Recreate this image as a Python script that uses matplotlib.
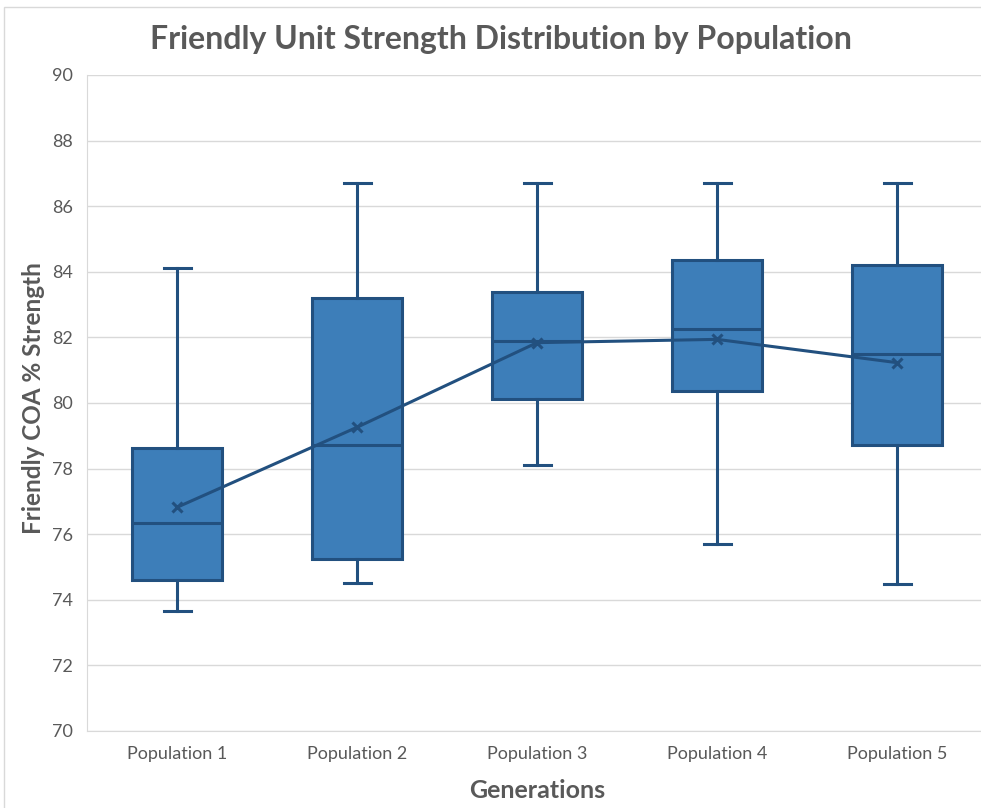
import numpy as np
import matplotlib.pyplot as plt
from matplotlib.patches import Rectangle

# values
populations = ["Population 1", "Population 2", "Population 3", "Population 4", "Population 5"]
whisker_low = [73.66, 74.50, 78.10, 75.69, 74.48]
q1 = [74.60, 75.24, 80.11, 80.36, 78.72]
median = [76.33, 78.71, 81.88, 82.25, 81.49]
q3 = [78.62, 83.21, 83.39, 84.36, 84.20]
whisker_high = [84.13, 86.70, 86.70, 86.70, 86.70]
mean = [76.82, 79.26, 81.84, 81.94, 81.23]

fill = "#3d7eb9"
edge = "#22507f"
grey = "#595959"

plt.rcParams['font.family'] = ['Lato', 'DejaVu Sans']

fig = plt.figure(figsize=(9.81, 8.08), dpi=100)
W, H = 981, 808
ax = fig.add_axes([87 / W, 1 - 731 / H, 900 / W, (731 - 75) / H])

# chart frame
fig.patches.append(Rectangle((4 / W, -0.1), 1.2, 1 - 7 / H + 0.1, transform=fig.transFigure,
                             fill=False, edgecolor="#d9d9d9", linewidth=1))

stats = []
for i in range(len(populations)):
    stats.append(dict(label=populations[i], whislo=whisker_low[i], q1=q1[i], med=median[i],
                      q3=q3[i], whishi=whisker_high[i], mean=mean[i], fliers=[]))

pos = np.arange(1, len(populations) + 1)
ax.bxp(stats, positions=pos, widths=0.505, patch_artist=True, showmeans=False,
       boxprops=dict(facecolor=fill, edgecolor=edge, linewidth=2.2),
       medianprops=dict(color=edge, linewidth=2.2),
       whiskerprops=dict(color=edge, linewidth=2.2),
       capprops=dict(color=edge, linewidth=2.2),
       capwidths=0.15, zorder=3)

ax.plot(pos, mean, color=edge, linewidth=2.2, marker="x", markersize=7,
        markeredgewidth=2.2, zorder=4)

ax.set_xlim(0.5, 5.5)
ax.set_ylim(70, 90)
ax.set_yticks(np.arange(70, 91, 2))
ax.grid(axis="y", color="#d9d9d9", linewidth=1)
ax.set_axisbelow(True)
for s in ["top", "right"]:
    ax.spines[s].set_visible(False)
ax.spines["left"].set_color("#d9d9d9")
ax.spines["bottom"].set_color("#d9d9d9")
ax.tick_params(length=0, labelsize=13, colors=grey, pad=10)
ax.tick_params(axis="x", pad=11)

fig.text(501 / W, 1 - 39 / H, "Friendly Unit Strength Distribution by Population", fontsize=23,
         fontweight="bold", color=grey, ha="center", va="center")
ax.set_xlabel("Generations", fontsize=18, fontweight="bold", color=grey, labelpad=12)
ax.set_ylabel("Friendly COA % Strength", fontsize=17.5, fontweight="bold", color=grey)
ax.yaxis.set_label_coords(-42 / 900, 0.508)

fig.savefig("out.png", dpi=100)
